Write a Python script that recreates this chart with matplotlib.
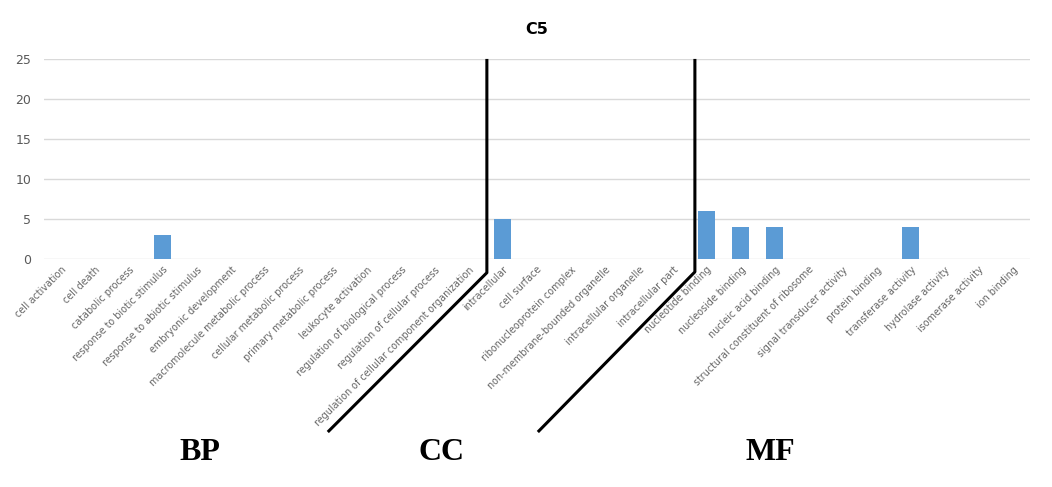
import matplotlib.pyplot as plt
import numpy as np

bp_terms = ['cell activation', 'cell death', 'catabolic process',
            'response to biotic stimulus', 'response to abiotic stimulus',
            'embryonic development', 'macromolecule metabolic process',
            'cellular metabolic process', 'primary metabolic process',
            'leukocyte activation', 'regulation of biological process',
            'regulation of cellular process',
            'regulation of cellular component organization']
cc_terms = ['intracellular', 'cell surface', 'ribonucleoprotein complex',
            'non-membrane-bounded organelle', 'intracellular organelle',
            'intracellular part']
mf_terms = ['nucleotide binding', 'nucleoside binding', 'nucleic acid binding',
            'structural constituent of ribosome', 'signal transducer activity',
            'protein binding', 'transferase activity', 'hydrolase activity',
            'isomerase activity', 'ion binding']

bp_counts = [0, 0, 0, 3, 0, 0, 0, 0, 0, 0, 0, 0, 0]
cc_counts = [5, 0, 0, 0, 0, 0]
mf_counts = [6, 4, 4, 0, 0, 0, 4, 0, 0, 0]

labels = bp_terms + cc_terms + mf_terms
counts = bp_counts + cc_counts + mf_counts
x = np.arange(len(labels))

fig = plt.figure(figsize=(10.52, 4.87), dpi=100)
ax = fig.add_axes([0.0418, 0.468, 0.937, 0.411])

ax.bar(x, counts, width=0.5, color='#5B9BD5', zorder=2)
ax.set_xlim(-0.5, len(labels) - 0.5)
ax.set_ylim(0, 25)
ax.set_yticks(range(0, 26, 5))
ax.yaxis.grid(True, color='#d9d9d9', linewidth=1, zorder=0)
for s in ax.spines.values():
    s.set_visible(False)
ax.tick_params(length=0, colors='#595959')
ax.tick_params(axis='y', labelsize=9, pad=9)
ax.set_xticks(x)
ax.set_xticklabels(labels, rotation=45, ha='right', rotation_mode='anchor',
                   fontsize=6.9, color='#666666')
ax.tick_params(axis='x', pad=4)

ax.set_title('C5', fontsize=11.5, fontweight='bold', pad=18)

# divider lines between the three groups
b1 = len(bp_terms) - 0.47
b2 = len(bp_terms) + len(cc_terms) - 0.35
ax.plot([b1, b1, b1 - 4.68], [25, -1.7, -21.6], color='black', lw=2.2,
        clip_on=False, solid_capstyle='butt', zorder=3)
ax.plot([b2, b2, b2 - 4.62], [25, -1.6, -21.6], color='black', lw=2.2,
        clip_on=False, solid_capstyle='butt', zorder=3)

for name, xf in [('BP', 200), ('CC', 442), ('MF', 770)]:
    fig.text(xf / 1052, 1 - 452 / 487, name, fontsize=23, fontweight='bold',
             family='Liberation Serif', ha='center', va='center')

fig.savefig('out.png', dpi=100)
